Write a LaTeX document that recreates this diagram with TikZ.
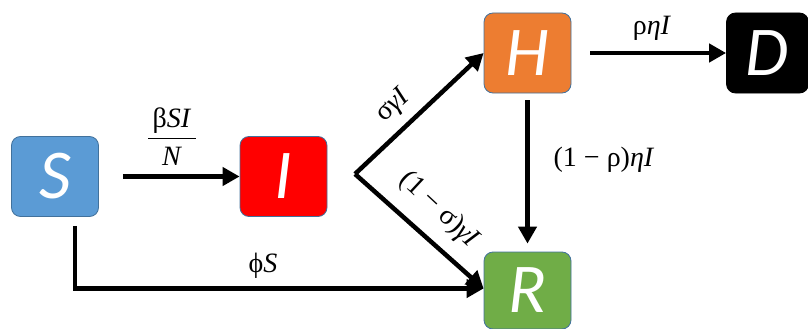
\documentclass[tikz,border=0pt]{standalone}
\usepackage{fontspec}
\setmainfont{Liberation Serif}
\newfontfamily\boxfont{Carlito}
\usetikzlibrary{arrows.meta}
\definecolor{cS}{HTML}{5B9BD5}
\definecolor{cI}{HTML}{FF0000}
\definecolor{cH}{HTML}{ED7D31}
\definecolor{cR}{HTML}{70AD47}
\definecolor{cedge}{HTML}{41719C}
\tikzset{
  comp/.style={draw=cedge, line width=0.8pt, rounded corners=9pt, minimum width=87pt, minimum height=80pt,
    inner sep=0pt, text=white, font=\boxfont\itshape\fontsize{70}{70}\selectfont},
  flow/.style={line width=4.5pt, -{Triangle[length=17pt,width=18pt]}},
  lab/.style={font=\fontsize{28}{30}\selectfont, inner sep=1pt}
}
\begin{document}
\begin{tikzpicture}[x=1pt,y=-1pt]
\useasboundingbox (0,0) rectangle (808,329);
\node[comp, fill=cS] (S) at (55,176.5) {S};
\node[comp, fill=cI] (I) at (283.5,176.5) {I};
\node[comp, fill=cH] (H) at (527.5,53) {H};
\node[comp, fill=black, draw=black, minimum width=82pt] (D) at (767.5,53) {D};
\node[comp, fill=cR, minimum height=77pt] (R) at (527.5,290.5) {R};
\coordinate (J) at (355,174);
\draw[flow, shorten <=24pt] (S.east) -- (I.west);
\draw[flow] ([xshift=20pt,yshift=-9pt]S.south) |- ([yshift=2pt]R.west);
\draw[flow] (J) -- (H.west);
\draw[flow] (J) -- ([yshift=2pt]R.west);
\draw[flow, shorten <=19pt] (H.east) -- (D.west);
\draw[flow, shorten <=7pt, shorten >=8pt] (H.south) -- (R.north);
\node[lab] (l1) at (172,137) {$\displaystyle\frac{\mbox{\,β\textit{SI}\,}\rule[-7pt]{0pt}{10pt}}{\rule{0pt}{26pt}\mbox{\textit{N}}}$};
\node[lab] (l2) at (263,266) {ϕ\textit{S}};
\node[lab, rotate=43] (l3) at (394,106) {σ\textit{γI}};
\node[lab, rotate=-43] (l4) at (439,210) {(1 − σ)\textit{γI}};
\node[lab] (l5) at (652,28) {ρ\textit{ηI}};
\node[lab] (l6) at (604,160) {(1 − ρ)\textit{ηI}};
\end{tikzpicture}
\end{document}
